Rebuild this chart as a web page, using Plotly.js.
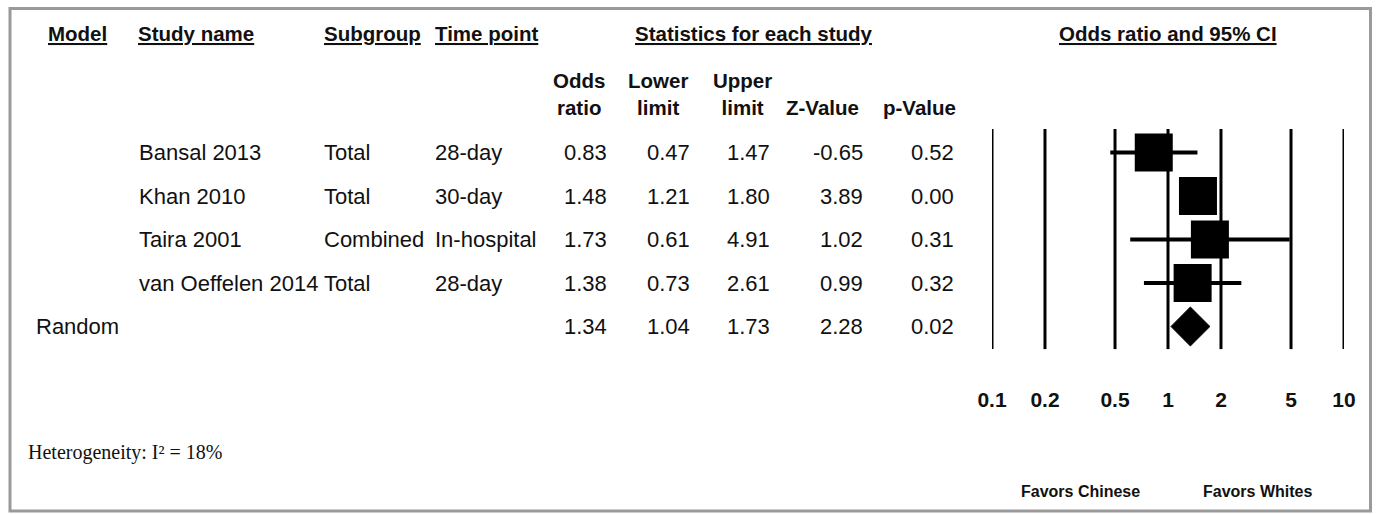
<!DOCTYPE html>
<html>
<head>
<meta charset="utf-8">
<script src="https://cdn.plot.ly/plotly-3.0.1.min.js"></script>
<style>html,body{margin:0;padding:0;background:#fff;}#chart{width:1377px;height:514px;}</style>
</head>
<body>
<div id="chart"></div>
<script>
// ---- data ----
const models = ['', '', '', '', 'Random'];
const studyNames = ['Bansal 2013', 'Khan 2010', 'Taira 2001', 'van Oeffelen 2014', ''];
const subgroups = ['Total', 'Total', 'Combined', 'Total', ''];
const timePoints = ['28-day', '30-day', 'In-hospital', '28-day', ''];
const oddsRatio = [0.83, 1.48, 1.73, 1.38, 1.34];
const lowerLimit = [0.47, 1.21, 0.61, 0.73, 1.04];
const upperLimit = [1.47, 1.80, 4.91, 2.61, 1.73];
const zValue = [-0.65, 3.89, 1.02, 0.99, 2.28];
const pValue = [0.52, 0.00, 0.31, 0.32, 0.02];
const isPooled = [false, false, false, false, true];
const tickVals = [0.1, 0.2, 0.5, 1, 2, 5, 10];
const tickText = ['0.1', '0.2', '0.5', '1', '2', '5', '10'];
const heterogeneity = 'Heterogeneity: I\u00B2 = 18%';
const favorsLeft = 'Favors Chinese';
const favorsRight = 'Favors Whites';

// ---- layout helpers ----
const W = 1377, H = 514;
const px = x => x / W;
const py = y => 1 - y / H;
const ROW0 = 152.5, ROWH = 43.5;          // pixel centre of first row, row spacing
const yTop = (0 - ROW0) / ROWH, yBot = (H - ROW0) / ROWH;
const SANS = 'Liberation Sans, Arial, sans-serif';
const SERIF = 'Liberation Serif, Times New Roman, serif';
const INK = '#111';
const u = t => "<b><span style='text-decoration:underline'>" + t + "</span></b>";

const nRows = oddsRatio.length;
const rows = oddsRatio.map((_, i) => i);
const studyIdx = rows.filter(i => !isPooled[i]);
const poolIdx = rows.filter(i => isPooled[i]);

const ann = [];
function txt(text, x, y, xanchor, opts) {
  opts = opts || {};
  ann.push({
    text: text, x: x, y: y, xref: 'paper', yref: opts.yref || 'paper',
    xanchor: xanchor, yanchor: 'middle', showarrow: false,
    font: Object.assign({family: SANS, size: 22, color: INK}, opts.font || {}),
    align: opts.align || 'left'
  });
}

// headers
const HF = {size: 20.5};
txt(u('Model'), px(77.5), py(34), 'center', {font: HF});
txt(u('Study name'), px(136), py(34), 'left', {font: HF});
txt(u('Subgroup'), px(322), py(34), 'left', {font: HF});
txt(u('Time point'), px(433), py(34), 'left', {font: HF});
txt(u('Statistics for each study'), px(754), py(34), 'center', {font: HF});
txt(u('Odds ratio and 95% CI'), px(1168), py(34), 'center', {font: HF});
txt('<b>Odds<br>ratio</b>', px(579), py(94), 'center', {font: HF, align: 'center'});
txt('<b>Lower<br>limit</b>', px(658), py(94), 'center', {font: HF, align: 'center'});
txt('<b>Upper<br>limit</b>', px(742), py(94), 'center', {font: HF, align: 'center'});
txt('<b>Z-Value</b>', px(822), py(107.5), 'center', {font: HF});
txt('<b>p-Value</b>', px(919), py(107.5), 'center', {font: HF});

// table rows
rows.forEach(i => {
  const o = {yref: 'y'};
  if (models[i]) txt(models[i], px(77), i, 'center', o);
  if (studyNames[i]) txt(studyNames[i], px(137), i, 'left', o);
  if (subgroups[i]) txt(subgroups[i], px(322), i, 'left', o);
  if (timePoints[i]) txt(timePoints[i], px(433), i, 'left', o);
  txt(oddsRatio[i].toFixed(2), px(609), i, 'right', o);
  txt(lowerLimit[i].toFixed(2), px(692), i, 'right', o);
  txt(upperLimit[i].toFixed(2), px(772), i, 'right', o);
  txt(zValue[i].toFixed(2), px(865), i, 'right', o);
  txt(pValue[i].toFixed(2), px(956), i, 'right', o);
});

txt(heterogeneity, px(26), py(452), 'left', {font: {family: SERIF, size: 20}});
txt('<b>' + favorsLeft + '</b>', px(1080), py(491), 'center', {font: {size: 16}});
txt('<b>' + favorsRight + '</b>', px(1257), py(491), 'center', {font: {size: 16}});

// reference lines at each tick
const shapes = tickVals.map(t => ({
  type: 'line', xref: 'x', yref: 'y', x0: t, x1: t,
  y0: -0.54, y1: nRows - 1 + 0.52, layer: 'below',
  line: {color: '#000', width: 3}
}));
// outer frame
shapes.push({type: 'rect', xref: 'paper', yref: 'paper',
  x0: px(10), x1: px(1370.5), y0: py(8.5), y1: py(511),
  line: {color: '#9a9a9a', width: 3}, fillcolor: 'rgba(0,0,0,0)'});

// CI whiskers
const ciX = [], ciY = [];
studyIdx.forEach(i => { ciX.push(lowerLimit[i], upperLimit[i], null); ciY.push(i, i, null); });

const traces = [
  {type: 'scatter', mode: 'lines', x: ciX, y: ciY, line: {color: '#000', width: 4},
   hoverinfo: 'skip', cliponaxis: false},
  {type: 'scatter', mode: 'markers', x: studyIdx.map(i => oddsRatio[i]), y: studyIdx,
   marker: {symbol: 'square', size: 38, color: '#000', line: {width: 0}}, cliponaxis: false}
];
poolIdx.forEach(i => {
  const h = 0.448;
  traces.push({type: 'scatter', mode: 'lines', fill: 'toself', fillcolor: '#000',
    x: [lowerLimit[i], oddsRatio[i], upperLimit[i], oddsRatio[i], lowerLimit[i]],
    y: [i, i - h, i, i + h, i], line: {color: '#000', width: 1}, cliponaxis: false});
});

const layout = {
  width: W, height: H,
  margin: {l: 0, r: 0, t: 0, b: 0, pad: 0},
  paper_bgcolor: '#fff', plot_bgcolor: 'rgba(0,0,0,0)',
  showlegend: false,
  xaxis: {
    type: 'log', range: [-1, 1], domain: [992 / W, 1344 / W],
    tickvals: tickVals, ticktext: tickText, tickmode: 'array',
    showgrid: false, zeroline: false, showline: false, ticks: '',
    anchor: 'free', position: py(385),
    tickfont: {family: SANS, size: 21, color: INK, weight: 'bold'},
    fixedrange: true
  },
  yaxis: {range: [yBot, yTop], domain: [0, 1], visible: false, fixedrange: true},
  annotations: ann,
  shapes: shapes
};

Plotly.newPlot('chart', traces, layout, {displayModeBar: false, staticPlot: true});
</script>
</body>
</html>
